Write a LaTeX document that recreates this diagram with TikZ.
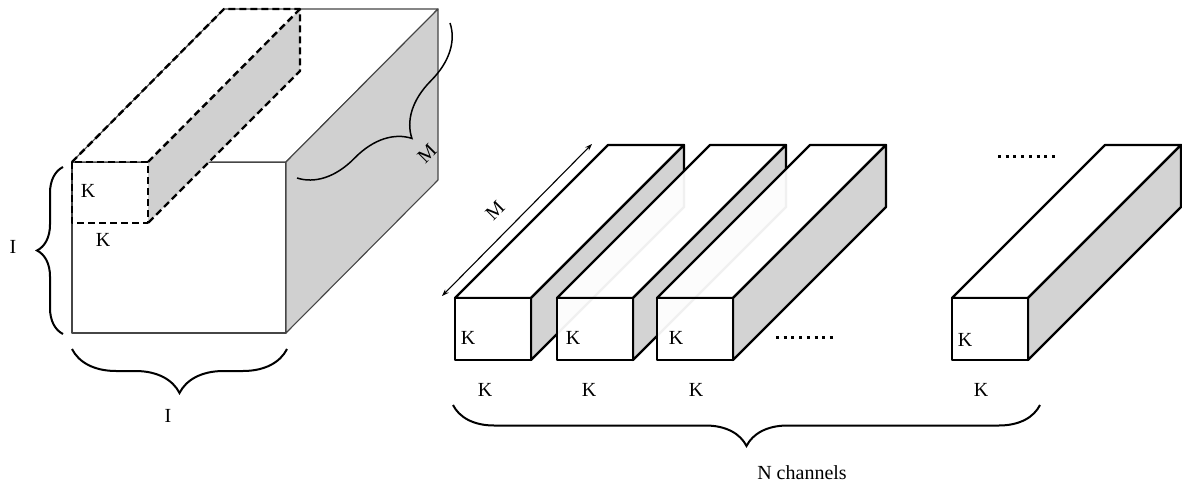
\documentclass[tikz,border=0pt]{standalone}
\usepackage{fontspec}
\setmainfont{Liberation Serif}
\usetikzlibrary{decorations.pathreplacing,arrows.meta}
\definecolor{facegray}{RGB}{208,208,208}
\definecolor{edgegray}{RGB}{70,70,70}
\tikzset{
  lbl/.style={font=\fontsize{20}{22}\selectfont, inner sep=0pt},
  thinedge/.style={draw=edgegray, line width=1.1pt, line join=round},
  cutedge/.style={draw=black, line width=2.4pt, dash pattern=on 7pt off 4pt, line join=round},
  slabedge/.style={draw=black, line width=2.3pt, line join=round},
  bracepath/.style={decorate, decoration={brace, amplitude=#1}, line width=2pt},
  dotrow/.style={line width=3pt, dash pattern=on 3pt off 4.7pt},
}
\begin{document}
\begin{tikzpicture}[x=1pt,y=-1pt]
\useasboundingbox (0,0) rectangle (1182,486);

% input volume: I x I x M
\filldraw[thinedge, fill=white] (72,162) rectangle (286,333);
\filldraw[thinedge, fill=white] (72,162) -- (286,162) -- (438,9) -- (224,9) -- cycle;
\filldraw[thinedge, fill=facegray] (286,162) -- (438,9) -- (438,180) -- (286,333) -- cycle;

% one K x K x M column cut out of the volume
\fill[facegray] (148,162) -- (300,9) -- (300,71) -- (148,223) -- cycle;
\draw[cutedge] (72,162) rectangle (148,223);
\draw[cutedge] (72,162) -- (224,9) -- (300,9) -- (300,71) -- (148,223);
\draw[cutedge] (148,162) -- (300,9);

% depth brace on the side face
\draw[bracepath=54, line width=1.5pt] (450,23) -- (297,178);
\node[lbl, rotate=45] (mdepth) at (427,154) {M};

% size braces of the volume
\draw[bracepath=26] (63,334) -- (63,167);
\node[lbl] (ileft) at (13,247) {I};
\draw[bracepath=44] (287,349) -- (72,349);
\node[lbl] (ibottom) at (168,416) {I};
\node[lbl] (kin) at (88,191) {K};
\node[lbl] (kunder) at (103,240) {K};

% the N columns, one per channel
\foreach \x in {455,557,657,952} {
  \filldraw[slabedge, fill=white, fill opacity=0.94] (\x,298) -- (\x+153,145) -- (\x+229,145) -- (\x+76,298) -- cycle;
  \filldraw[slabedge, fill=facegray, fill opacity=0.94] (\x+76,298) -- (\x+229,145) -- (\x+229,207) -- (\x+76,360) -- cycle;
  \filldraw[slabedge, fill=white, fill opacity=0.94] (\x,298) rectangle (\x+76,360);
}

% column length
\coordinate (arrlow) at (442,296);
\coordinate (arrhigh) at (592,144);
\draw[{Stealth[length=7pt,width=5pt]}-{Stealth[length=7pt,width=5pt]}, line width=1.1pt] (arrlow) -- (arrhigh);
\node[lbl, rotate=45] (mlen) at (495,211) {M};

% labels of the columns
\node[lbl] (ka) at (468,338) {K};
\node[lbl] (kb) at (573,338) {K};
\node[lbl] (kc) at (676,338) {K};
\node[lbl] (kd) at (965,340) {K};
\node[lbl] (kwa) at (485,390) {K};
\node[lbl] (kwb) at (589,390) {K};
\node[lbl] (kwc) at (696,390) {K};
\node[lbl] (kwd) at (981,390) {K};

% ellipses for the omitted columns
\draw[dotrow] (998,157) -- (1056,157);
\draw[dotrow] (776,337) -- (834,337);

% channel count
\draw[bracepath=41] (1040,405) -- (453,405);
\node[lbl] (nch) at (802,473) {N channels};
\end{tikzpicture}
\end{document}
